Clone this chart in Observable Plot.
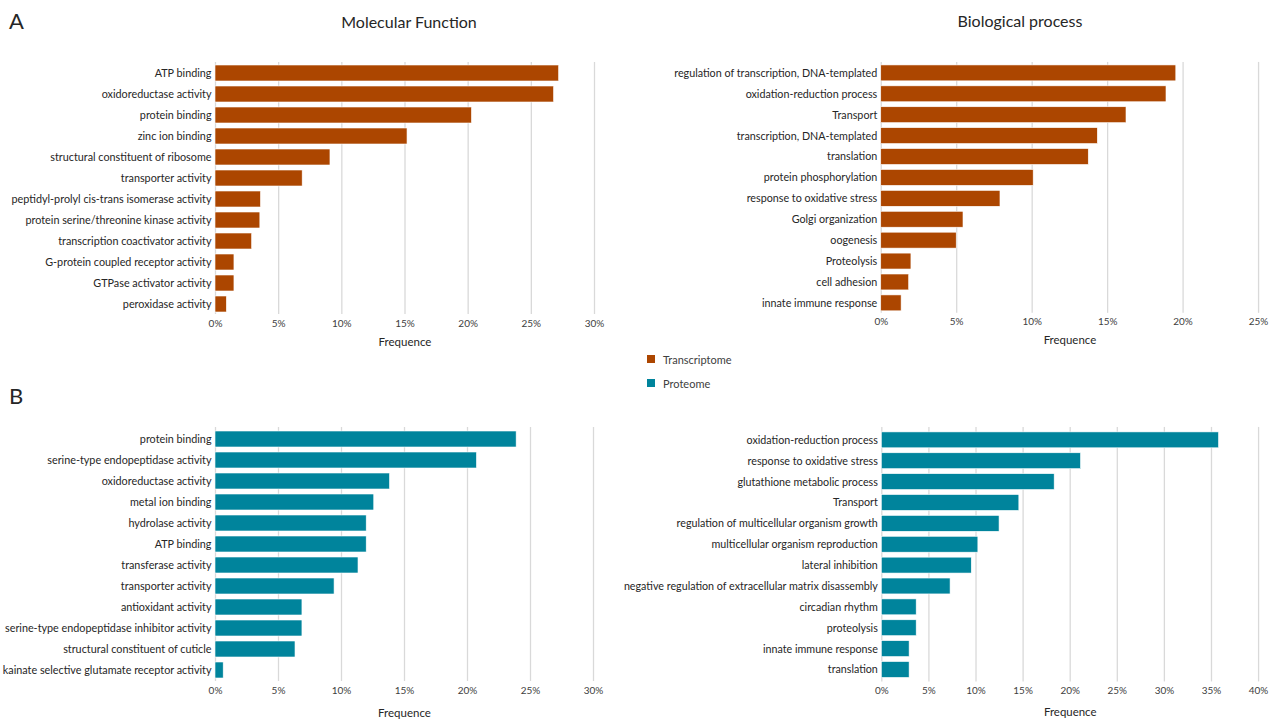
<!DOCTYPE html>
<html>
<head>
<meta charset="utf-8">
<script src="https://cdn.jsdelivr.net/npm/d3@7"></script>
<script src="https://cdn.jsdelivr.net/npm/@observablehq/plot@0.6"></script>
<style>
  body { margin: 0; background: #fff; }
  #wrap { position: relative; width: 1272px; height: 719px; overflow: hidden; font-family: Lato, "Open Sans", sans-serif; color: #262626; }
  .abs { position: absolute; white-space: nowrap; }
  .c { transform: translate(-50%, -50%); }
  .lbl { transform: translate(0, -50%); }
  .panel { font-size: 22px; }
  .title { font-size: 16px; }
  .leg { font-size: 11px; color: #404040; }
  .sw { position: absolute; width: 8px; height: 8px; }
  .chart { position: absolute; }
  .chart svg { overflow: visible; }
</style>
</head>
<body>
<div id="wrap"></div>
<script>
// ---- Data ----
const mfTransLabels = [
  "ATP binding", "oxidoreductase activity", "protein binding", "zinc ion binding",
  "structural constituent of ribosome", "transporter activity",
  "peptidyl-prolyl cis-trans isomerase activity", "protein serine/threonine kinase activity",
  "transcription coactivator activity", "G-protein coupled receptor activity",
  "GTPase activator activity", "peroxidase activity"
];
const mfTransValues = [27.2, 26.8, 20.3, 15.2, 9.1, 6.9, 3.6, 3.55, 2.9, 1.5, 1.5, 0.9];

const bpTransLabels = [
  "regulation of transcription, DNA-templated", "oxidation-reduction process", "Transport",
  "transcription, DNA-templated", "translation", "protein phosphorylation",
  "response to oxidative stress", "Golgi organization", "oogenesis", "Proteolysis",
  "cell adhesion", "innate immune response"
];
const bpTransValues = [19.55, 18.9, 16.25, 14.35, 13.75, 10.1, 7.9, 5.45, 5.0, 2.0, 1.85, 1.35];

const mfProtLabels = [
  "protein binding", "serine-type endopeptidase activity", "oxidoreductase activity",
  "metal ion binding", "hydrolase activity", "ATP binding", "transferase activity",
  "transporter activity", "antioxidant activity", "serine-type endopeptidase inhibitor activity",
  "structural constituent of cuticle", "kainate selective glutamate receptor activity"
];
const mfProtValues = [23.9, 20.75, 13.85, 12.6, 12.0, 12.0, 11.35, 9.45, 6.9, 6.9, 6.35, 0.65];

const bpProtLabels = [
  "oxidation-reduction process", "response to oxidative stress", "glutathione metabolic process",
  "Transport", "regulation of multicellular organism growth", "multicellular organism reproduction",
  "lateral inhibition", "negative regulation of extracellular matrix disassembly",
  "circadian rhythm", "proteolysis", "innate immune response", "translation"
];
const bpProtValues = [35.8, 21.15, 18.35, 14.6, 12.5, 10.25, 9.55, 7.3, 3.7, 3.7, 2.95, 2.95];

const titles = ["Molecular Function", "Biological process"];
const panelLetters = ["A", "B"];
const seriesNames = ["Transcriptome", "Proteome"];
const seriesColors = ["#AC4600", "#00849C"];
const axisLabel = "Frequence";

// ---- Layout helpers ----
const wrap = document.getElementById("wrap");
function addText(text, cls, x, y) {
  const d = document.createElement("div");
  d.className = "abs " + cls;
  d.style.left = x + "px";
  d.style.top = y + "px";
  d.textContent = text;
  wrap.appendChild(d);
  return d;
}

function panel({labels, values, max, color, svgLeft, svgTop, x0, x1, bandTop, bandBottom, labelDy}) {
  const data = labels.map((label, i) => ({label, value: values[i]}));
  const marginTop = bandTop - svgTop;
  const marginBottom = 38;
  const marginLeft = x0 - svgLeft;
  const marginRight = 14;
  const width = x1 - svgLeft + marginRight;
  const height = bandBottom - svgTop + marginBottom;
  const ticks = d3.range(0, max + 0.001, 5);
  const chart = Plot.plot({
    width, height, marginTop, marginBottom, marginLeft, marginRight,
    style: {fontFamily: "Lato, 'Open Sans', sans-serif", fontSize: "10.8px", color: "#262626", background: "transparent", overflow: "visible"},
    x: {domain: [0, max]},
    y: {domain: labels, paddingInner: 0.24, paddingOuter: 0.12},
    marks: [
      Plot.gridX(ticks, {stroke: "#d9d9d9", strokeOpacity: 1, strokeWidth: 1.3}),
      Plot.barX(data, {x: "value", y: "label", fill: color, stroke: "white", strokeWidth: 0.6}),
      Plot.axisX({ticks, tickSize: 0, tickPadding: 5, tickFormat: d => d + "%", fontSize: 10, fill: "#404040", label: null}),
      Plot.axisY({tickSize: 0, tickPadding: 4, label: null}),
      Plot.text([axisLabel], {frameAnchor: "bottom", dy: labelDy, fontSize: 11.5, fill: "#262626"})
    ]
  });
  const holder = document.createElement("div");
  holder.className = "chart";
  holder.style.left = svgLeft + "px";
  holder.style.top = svgTop + "px";
  holder.appendChild(chart);
  wrap.appendChild(holder);
}

// ---- Panels ----
panel({labels: mfTransLabels, values: mfTransValues, max: 30, color: seriesColors[0],
  svgLeft: 0, svgTop: 50, x0: 215, x1: 594, bandTop: 62, bandBottom: 314, labelDy: 31});
panel({labels: bpTransLabels, values: bpTransValues, max: 25, color: seriesColors[0],
  svgLeft: 600, svgTop: 50, x0: 882, x1: 1261, bandTop: 62, bandBottom: 314, labelDy: 31});
panel({labels: mfProtLabels, values: mfProtValues, max: 30, color: seriesColors[1],
  svgLeft: 0, svgTop: 415, x0: 215, x1: 593, bandTop: 427, bandBottom: 681, labelDy: 35});
panel({labels: bpProtLabels, values: bpProtValues, max: 40, color: seriesColors[1],
  svgLeft: 600, svgTop: 415, x0: 883, x1: 1262, bandTop: 427, bandBottom: 683, labelDy: 34});

// ---- Text ----
addText(panelLetters[0], "panel lbl", 9, 20);
addText(panelLetters[1], "panel lbl", 9, 395);
addText(titles[0], "title c", 409, 21);
addText(titles[1], "title c", 1020, 20);

// ---- Legend ----
seriesNames.forEach((name, i) => {
  const y = 359 + i * 24;
  const sw = document.createElement("div");
  sw.className = "sw";
  sw.style.left = "647px";
  sw.style.top = (y - 4) + "px";
  sw.style.background = seriesColors[i];
  wrap.appendChild(sw);
  addText(name, "leg lbl", 663, y);
});
</script>
</body>
</html>
